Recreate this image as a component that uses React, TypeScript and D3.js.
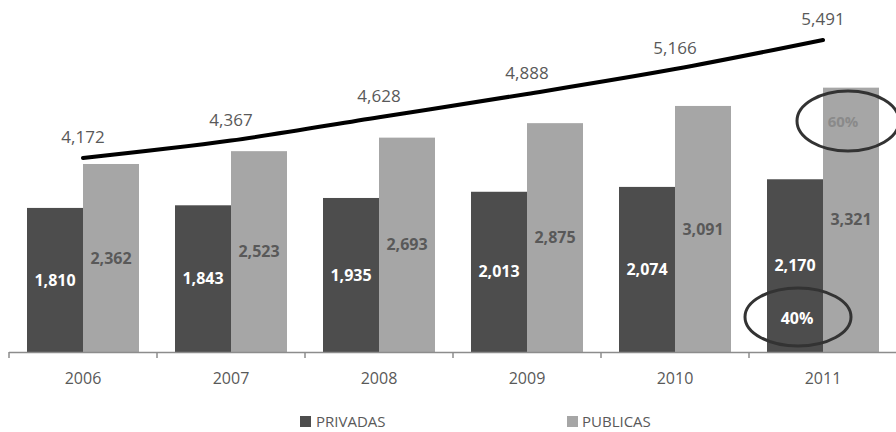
import React from "react";
import * as d3 from "d3";

const years = ["2006", "2007", "2008", "2009", "2010", "2011"];
const privadas = [1810, 1843, 1935, 2013, 2074, 2170];
const publicas = [2362, 2523, 2693, 2875, 3091, 3321];
const totals = [4172, 4367, 4628, 4888, 5166, 5491];
const seriesNames = ["PRIVADAS", "PUBLICAS"];

const W = 896;
const H = 432;
const FONT = "'Open Sans', sans-serif";
const DARK = "#4d4d4d";
const LIGHT = "#a6a6a6";
const TXT = "#595959";

const fmt = d3.format(",");

export default function App() {
  const x = d3.scaleBand().domain(years).range([9, 897]).paddingInner(0).paddingOuter(0);
  const inner = d3.scaleBand().domain(seriesNames).range([0, x.bandwidth()]).paddingInner(0).paddingOuter(18 / 56);
  const y = d3.scaleLinear().domain([0, 4000]).range([352, 33.6]);
  const yLine = d3.scaleLinear().domain([4172, 5491]).range([158, 40]);
  const cx = (i: number) => (x(years[i]) as number) + x.bandwidth() / 2;
  const line = d3
    .line<number>()
    .x((_, i) => cx(i))
    .y((d) => yLine(d))
    .curve(d3.curveMonotoneX);

  const bw = inner.bandwidth();

  return (
    <svg width={W} height={H} style={{ position: "absolute", left: 0, top: 0, background: "#fff" }}>
      <rect x={0} y={0} width={W} height={H} fill="#fff" />
      {years.map((yr, i) => {
        const x0 = x(yr) as number;
        const xp = x0 + (inner("PRIVADAS") as number);
        const xq = x0 + (inner("PUBLICAS") as number);
        return (
          <g key={yr}>
            <rect x={xp} y={y(privadas[i])} width={bw} height={y(0) - y(privadas[i])} fill={DARK} />
            <rect x={xq} y={y(publicas[i])} width={bw} height={y(0) - y(publicas[i])} fill={LIGHT} />
            <text
              x={xp + bw / 2}
              y={(y(privadas[i]) + y(0)) / 2}
              dy="0.35em"
              textAnchor="middle"
              fontFamily={FONT}
              fontWeight={700}
              fontSize={16}
              fill="#fff"
            >
              {fmt(privadas[i])}
            </text>
            <text
              x={xq + bw / 2}
              y={(y(publicas[i]) + y(0)) / 2}
              dy="0.35em"
              textAnchor="middle"
              fontFamily={FONT}
              fontWeight={700}
              fontSize={16}
              fill={TXT}
            >
              {fmt(publicas[i])}
            </text>
            <text x={cx(i)} y={384} textAnchor="middle" fontFamily={FONT} fontSize={16} fill={TXT}>
              {yr}
            </text>
            <text
              x={cx(i)}
              y={yLine(totals[i]) - 21}
              dy="0.35em"
              textAnchor="middle"
              fontFamily={FONT}
              fontSize={17}
              fill={TXT}
            >
              {fmt(totals[i])}
            </text>
          </g>
        );
      })}
      {/* axis */}
      <line x1={9} x2={896} y1={352.5} y2={352.5} stroke="#8c8c8c" strokeWidth={1.5} />
      {d3.range(years.length + 1).map((k) => {
        const xx = k < years.length ? (x(years[k]) as number) : 897;
        return <line key={k} x1={xx} x2={xx} y1={352} y2={358} stroke="#8c8c8c" strokeWidth={1.5} />;
      })}
      {/* total line */}
      <path d={line(totals) || ""} fill="none" stroke="#000" strokeWidth={4} strokeLinecap="round" />
      {/* percentage annotations */}
      <ellipse cx={848} cy={121} rx={51} ry={30} fill="none" stroke="#333" strokeWidth={3} />
      <text x={843} y={122} dy="0.35em" textAnchor="middle" fontFamily={FONT} fontWeight={700} fontSize={15} fill="#8a8a8a">
        60%
      </text>
      <ellipse cx={798} cy={317} rx={53} ry={29} fill="none" stroke="#333" strokeWidth={3} />
      <text x={797} y={318} dy="0.35em" textAnchor="middle" fontFamily={FONT} fontWeight={700} fontSize={16} fill="#fff">
        40%
      </text>
      {/* legend */}
      <rect x={300} y={416} width={11} height={11} fill={DARK} />
      <text x={316} y={427} fontFamily={FONT} fontSize={15} fill={TXT}>
        {seriesNames[0]}
      </text>
      <rect x={567} y={416} width={11} height={11} fill={LIGHT} />
      <text x={582} y={427} fontFamily={FONT} fontSize={15} fill={TXT}>
        {seriesNames[1]}
      </text>
    </svg>
  );
}
